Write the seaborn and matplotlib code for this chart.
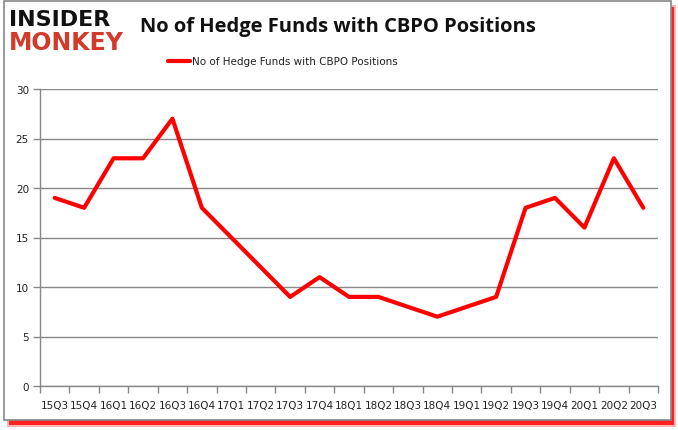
import matplotlib
matplotlib.use("Agg")
import matplotlib.pyplot as plt
import seaborn as sns
import pandas as pd
from matplotlib.patches import Rectangle

quarters = ["15Q3", "15Q4", "16Q1", "16Q2", "16Q3", "16Q4", "17Q1", "17Q2", "17Q3", "17Q4",
            "18Q1", "18Q2", "18Q3", "18Q4", "19Q1", "19Q2", "19Q3", "19Q4", "20Q1", "20Q2", "20Q3"]
funds = [19, 18, 23, 23, 27, 18, 15, 12, 9, 11, 9, 9, 8, 7, 8, 9, 18, 19, 16, 23, 18]
series_name = "No of Hedge Funds with CBPO Positions"
yticks = [0, 5, 10, 15, 20, 25, 30]

sns.set_theme(style="white")
plt.rcParams['font.family'] = ['DejaVu Sans']

W, H = 678, 431
fig = plt.figure(figsize=(W / 100, H / 100), dpi=100)
fig.patch.set_facecolor("white")

# frame with red shadow
fig.patches.append(Rectangle((7 / W, 1 - 428 / H), (676 - 7) / W, (428 - 6) / H,
                             transform=fig.transFigure, facecolor="#ffb3b3", edgecolor="none", zorder=-3))
fig.patches.append(Rectangle((9 / W, 1 - 426 / H), (674 - 9) / W, (426 - 8) / H,
                             transform=fig.transFigure, facecolor="#ff2020", edgecolor="none", zorder=-2))
fig.patches.append(Rectangle((4 / W, 1 - 421 / H), (671 - 4) / W, (421 - 2) / H,
                             transform=fig.transFigure, facecolor="white", edgecolor="#888888",
                             linewidth=1.2, zorder=-1))

ax = fig.add_axes([40 / W, 1 - 387 / H, (658 - 40) / W, (387 - 90) / H])
ax.set_facecolor("none")
ax.set_zorder(2)

df = pd.DataFrame({"quarter": quarters, "funds": funds})
df["pos"] = range(len(quarters))
sns.lineplot(data=df, x="pos", y="funds", color="#ff0000", linewidth=3, ax=ax, label=series_name,
             legend=False)

n = len(quarters)
ax.set_xlim(-0.5, n - 0.5)
ax.set_ylim(0, 30)
ax.set_yticks(yticks)
ax.set_yticklabels([str(v) for v in yticks], fontsize=7.5, color="#222222")
ax.set_xticks(range(n))
ax.set_xticklabels(quarters, fontsize=7.5, color="#222222")
ax.tick_params(axis="x", which="major", bottom=True, length=0, pad=10)
ax.tick_params(axis="y", which="major", left=True, length=5, pad=3, color="#888888", width=1,
               direction="out")
ax.set_xticks([i - 0.5 for i in range(n + 1)], minor=True)
ax.tick_params(axis="x", which="minor", bottom=True, length=5, color="#888888", width=1, direction="out")
ax.grid(axis="y", which="major", color="#888888", linewidth=1)
ax.set_xlabel("")
ax.set_ylabel("")
for s in ["top", "right"]:
    ax.spines[s].set_visible(False)
for s in ["left", "bottom"]:
    ax.spines[s].set_color("#888888")
    ax.spines[s].set_linewidth(1)

# title
fig.text(338 / W, 1 - 27 / H, "No of Hedge Funds with CBPO Positions", ha="center", va="center",
         fontsize=14.5, fontweight="bold", color="#111111", family=["Open Sans", "DejaVu Sans"])
# legend
fig.lines.append(plt.Line2D([168 / W, 190 / W], [1 - 62 / H, 1 - 62 / H], transform=fig.transFigure,
                            color="#ff0000", linewidth=3))
fig.text(192 / W, 1 - 62 / H, series_name, ha="left", va="center", fontsize=7.5, color="#222222")

# logo
fig.text(9 / W, 1 - 20 / H, "INSIDER", ha="left", va="center", fontsize=16, fontweight="heavy",
         color="#111111", family=["DejaVu Sans"])
fig.text(9 / W, 1 - 43 / H, "MONKEY", ha="left", va="center", fontsize=17, fontweight="heavy",
         color="#d23b2a", family=["DejaVu Sans"])

fig.savefig("out.png", dpi=100, facecolor="white")
